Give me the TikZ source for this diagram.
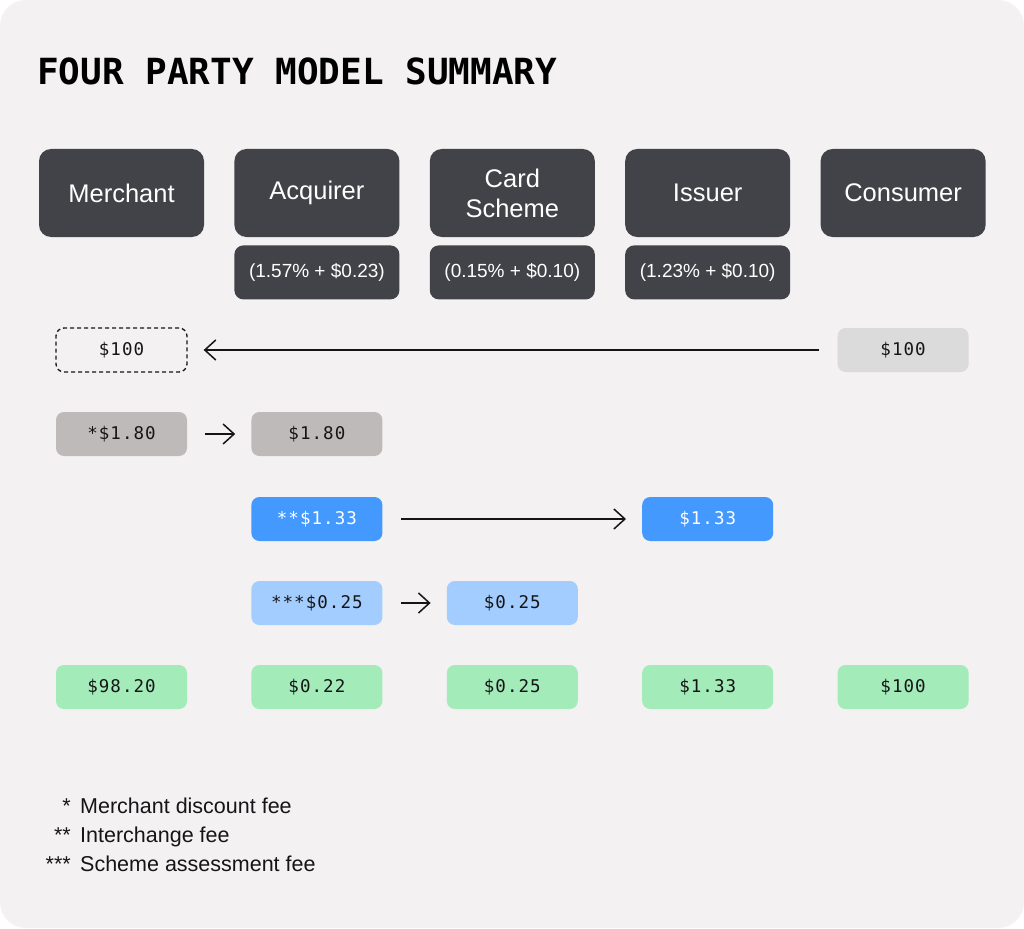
\documentclass[tikz,border=0pt]{standalone}
\usepackage{fontspec}
\setmainfont{Liberation Sans}
\newfontfamily\titlefont{DejaVu Sans Mono}
\newfontfamily\amountfont[LetterSpace=6]{DejaVu Sans Mono}
\usetikzlibrary{arrows.meta, positioning}
\definecolor{canvas}{HTML}{F3F1F2}
\definecolor{partydark}{HTML}{424349}
\definecolor{inkdark}{HTML}{151517}
\definecolor{paidgray}{HTML}{DCDBDB}
\definecolor{feegray}{HTML}{BEBAB9}
\definecolor{feeblue}{HTML}{4499FF}
\definecolor{feelight}{HTML}{A3CDFF}
\definecolor{netgreen}{HTML}{A3EBB9}
\tikzset{
    party/.style={rectangle, rounded corners=12pt, minimum width=165pt, minimum height=88pt, align=center, fill=partydark, text=white, font=\fontsize{25.5}{30}\selectfont},
    rate/.style={rectangle, rounded corners=9pt, minimum width=165pt, minimum height=54pt, fill=partydark, text=white, font=\fontsize{19}{22}\selectfont},
    amount/.style={rectangle, rounded corners=8pt, minimum width=131pt, minimum height=44pt, text=inkdark, font=\amountfont\fontsize{17.5}{20}\selectfont},
    note/.style={inner sep=0pt, text=inkdark, font=\fontsize{21.5}{24}\selectfont},
    arrow/.style={->, >={Straight Barb[length=11pt, width=20pt]}, line width=1.5pt, draw=inkdark, shorten >=16pt, shorten <=18pt}
}
\begin{document}
\begin{tikzpicture}[x=1pt, y=-1pt, node distance=30pt]

        % Background
        \fill[white] (0,0) rectangle (1024,928);
        \fill[canvas, rounded corners=26pt] (0,0) rectangle (1024,928);

        \node (title) [anchor=base west, inner sep=0pt, text=black, font=\titlefont\bfseries\fontsize{36}{40}\selectfont] at (37,85) {FOUR PARTY MODEL SUMMARY};

        % Parties
        \node (merchant) [party] at (121.5,193) {Merchant};
        \node (acquirer) [party, right=of merchant] {Acquirer};
        \node (scheme) [party, right=of acquirer] {Card\\Scheme};
        \node (issuer) [party, right=of scheme] {Issuer};
        \node (consumer) [party, right=of issuer] {Consumer};

        \node (acquirerrate) [rate, below=8pt of acquirer] {(1.57\% + \$0.23)};
        \node (schemerate) [rate, below=8pt of scheme] {(0.15\% + \$0.10)};
        \node (issuerrate) [rate, below=8pt of issuer] {(1.23\% + \$0.10)};

        % Rows
        \coordinate (payrow) at (0,350);
        \coordinate (mdfrow) at (0,434);
        \coordinate (icrow) at (0,519);
        \coordinate (sarow) at (0,603);
        \coordinate (netrow) at (0,687);

        \node (merchantpay) [amount, draw=inkdark, line width=1.3pt, dash pattern=on 4pt off 3pt] at (merchant |- payrow) {\$100};
        \node (consumerpay) [amount, fill=paidgray] at (consumer |- payrow) {\$100};

        \node (merchantmdf) [amount, fill=feegray] at (merchant |- mdfrow) {*\$1.80};
        \node (acquirermdf) [amount, fill=feegray] at (acquirer |- mdfrow) {\$1.80};

        \node (acquireric) [amount, fill=feeblue, text=white] at (acquirer |- icrow) {**\$1.33};
        \node (issueric) [amount, fill=feeblue, text=white] at (issuer |- icrow) {\$1.33};

        \node (acquirersa) [amount, fill=feelight] at (acquirer |- sarow) {***\$0.25};
        \node (schemesa) [amount, fill=feelight] at (scheme |- sarow) {\$0.25};

        \node (merchantnet) [amount, fill=netgreen] at (merchant |- netrow) {\$98.20};
        \node (acquirernet) [amount, fill=netgreen] at (acquirer |- netrow) {\$0.22};
        \node (schemenet) [amount, fill=netgreen] at (scheme |- netrow) {\$0.25};
        \node (issuernet) [amount, fill=netgreen] at (issuer |- netrow) {\$1.33};
        \node (consumernet) [amount, fill=netgreen] at (consumer |- netrow) {\$100};

        % Arrows
        \draw[arrow] (consumerpay) -- (merchantpay);
        \draw[arrow] (merchantmdf) -- (acquirermdf);
        \draw[arrow] (acquireric) -- (issueric);
        \draw[arrow] (acquirersa) -- (schemesa);

        % Legend
        \node (mdfmark) [note, anchor=base east] at (71,813) {*};
        \node (mdfnote) [note, anchor=base west] at (80,813) {Merchant discount fee};
        \node (icmark) [note, anchor=base east] at (71,842) {**};
        \node (icnote) [note, anchor=base west] at (80,842) {Interchange fee};
        \node (samark) [note, anchor=base east] at (71,871) {***};
        \node (sanote) [note, anchor=base west] at (80,871) {Scheme assessment fee};

\end{tikzpicture}
\end{document}
